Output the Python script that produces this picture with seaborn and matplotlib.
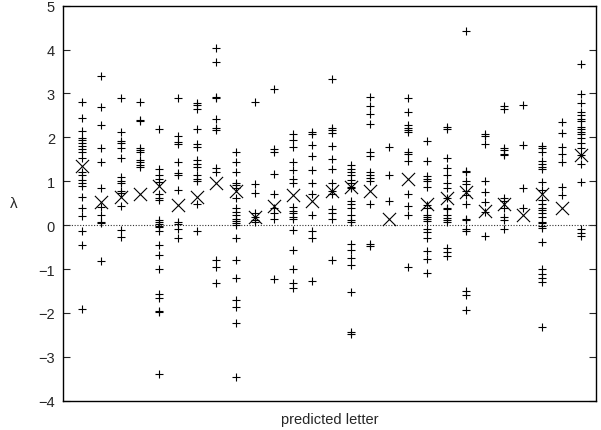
import matplotlib
matplotlib.use('Agg')
import matplotlib.pyplot as plt
import pandas as pd
import seaborn as sns

# predicted letters (27 classes, tick labels are hidden in the figure)
letters = list('abcdefghijklmnopqrstuvwxyz') + ['_']

# lambda values per predicted letter
c00 = [2.81, 2.43, 2.14, 1.99, 1.94, 1.86, 1.80, 1.73, 1.66, 1.52, 1.21, 1.14, 1.03, 0.95, 0.90, 0.65, 0.38, 0.21, -0.13, -0.46, -1.92]
c01 = [3.40, 2.70, 2.29, 1.76, 1.44, 0.85, 0.42, 0.24, 0.08, 0.04, -0.81]
c02 = [2.89, 2.13, 1.91, 1.86, 1.76, 1.54, 1.09, 1.00, 0.96, 0.77, 0.73, 0.44, -0.11, -0.27]
c03 = [2.81, 2.39, 2.37, 1.76, 1.71, 1.67, 1.48, 1.43, 1.37, 1.33]
c04 = [2.20, 1.29, 1.14, 1.06, 0.99, 0.72, 0.61, 0.57, 0.11, 0.06, 0.02, -0.02, -0.04, -0.13, -0.46, -0.67, -0.99, -1.56, -1.66, -1.96, -1.99, -3.40]
c05 = [2.90, 2.03, 1.90, 1.85, 1.44, 1.18, 1.15, 0.80, 0.08, 0.02, -0.08, -0.30]
c06 = [2.79, 2.73, 2.64, 2.19, 1.84, 1.78, 1.48, 1.40, 1.33, 1.14, 1.05, 1.00, 0.48, -0.13]
c07 = [4.04, 3.72, 2.92, 2.89, 2.41, 2.22, 2.16, 1.31, 1.20, -0.80, -0.95, -1.31]
c08 = [1.66, 1.43, 1.21, 0.95, 0.91, 0.84, 0.61, 0.38, 0.30, 0.23, 0.15, 0.09, 0.04, 0.00, -0.30, -0.80, -1.20, -1.71, -1.86, -2.24, -3.46]
c09 = [2.81, 0.93, 0.74, 0.27, 0.19, 0.11, 0.06]
c10 = [3.10, 1.73, 1.67, 1.16, 0.72, 0.38, 0.27, 0.15, -1.23]
c11 = [2.07, 1.94, 1.77, 1.43, 1.25, 1.06, 0.95, 0.42, 0.32, 0.27, 0.19, 0.15, -0.10, -0.57, -1.00, -1.31, -1.43]
c12 = [2.13, 2.07, 1.82, 1.58, 1.25, 0.95, 0.72, 0.23, -0.13, -0.29, -1.28]
c13 = [3.32, 2.22, 2.16, 2.11, 1.81, 1.50, 1.29, 0.95, 0.77, 0.70, 0.36, 0.27, 0.15, -0.80]
c14 = [1.38, 1.29, 1.21, 1.14, 1.03, 0.95, 0.87, 0.84, 0.55, 0.49, 0.38, 0.24, 0.11, 0.06, -0.42, -0.57, -0.76, -0.91, -1.52, -2.43, -2.49]
c15 = [2.92, 2.72, 2.53, 2.31, 1.66, 1.58, 1.20, 1.15, 1.08, 1.00, 0.48, -0.43, -0.47]
c16 = [1.78, 1.15, 0.55]
c17 = [2.89, 2.58, 2.28, 2.22, 2.16, 2.13, 1.67, 1.61, 1.46, 0.72, 0.43, 0.24, -0.96]
c18 = [1.91, 1.47, 1.12, 1.06, 1.01, 0.87, 0.46, 0.39, 0.24, 0.19, 0.15, 0.09, -0.09, -0.15, -0.30, -0.59, -0.77, -1.08]
c19 = [2.23, 2.19, 1.54, 1.31, 1.14, 0.97, 0.84, 0.62, 0.39, 0.36, 0.23, 0.17, 0.11, 0.06, -0.52, -0.62, -0.70]
c20 = [4.42, 1.23, 1.20, 1.00, 0.93, 0.77, 0.68, 0.49, 0.14, 0.11, -0.08, -0.14, -1.50, -1.59, -1.94]
c21 = [2.07, 2.03, 1.84, 1.00, 0.76, 0.52, 0.30, -0.25]
c22 = [2.72, 2.64, 1.76, 1.71, 1.63, 1.59, 0.61, 0.55, 0.38, 0.19, 0.11, -0.09]
c23 = [2.73, 1.82, 0.84, 0.39]
c24 = [1.81, 1.75, 1.67, 1.46, 1.40, 1.33, 1.28, 0.99, 0.80, 0.57, 0.49, 0.39, 0.34, 0.27, 0.19, 0.08, 0.04, -0.02, -0.06, -0.38, -1.00, -1.12, -1.21, -1.29, -2.32]
c25 = [2.34, 2.09, 1.78, 1.61, 1.44, 0.87, 0.68]
c26 = [3.68, 2.98, 2.79, 2.58, 2.51, 2.41, 2.37, 2.24, 2.20, 2.13, 2.07, 1.99, 1.86, 1.76, 1.59, 1.40, 0.99, -0.08, -0.19, -0.24]

# average lambda per letter (the big x marks)
means = [1.34, 0.52, 0.65, 0.72, 0.90, 0.46, 0.65, 0.96, 0.78, 0.19, 0.44, 0.68, 0.55, 0.77,
         0.87, 0.77, 0.14, 1.06, 0.48, 0.61, 0.76, 0.33, 0.49, 0.23, 0.70, 0.40, 1.59]

columns = [c00, c01, c02, c03, c04, c05, c06, c07, c08, c09, c10, c11, c12, c13,
           c14, c15, c16, c17, c18, c19, c20, c21, c22, c23, c24, c25, c26]

# long-form table for seaborn
rows = []
for i, vals in enumerate(columns):
    for v in vals:
        rows.append({'pos': i, 'letter': letters[i], 'lam': v})
df = pd.DataFrame(rows)
df_mean = pd.DataFrame({'pos': range(len(means)), 'letter': letters, 'lam': means})

sns.set_style('ticks')
plt.rcParams['font.family'] = ['Liberation Sans', 'DejaVu Sans']

fig = plt.figure(figsize=(6.01, 4.31), dpi=100)
ax = fig.add_axes([0.1053, 0.068, 0.886, 0.9165])

# zero line
ax.axhline(0, color='#333333', lw=0.8, ls=(0, (1, 1.5)), zorder=1)

sns.scatterplot(data=df, x='pos', y='lam', marker='+', s=28, color='black',
                linewidth=0.8, ax=ax, legend=False, zorder=3)
sns.scatterplot(data=df_mean, x='pos', y='lam', marker='x', s=90, color='black',
                linewidth=0.8, ax=ax, legend=False, zorder=4)

ax.set_xlim(-0.99, 26.78)
ax.set_ylim(-4, 5)
ax.set_xticks([])
ax.set_yticks(range(-4, 6))
ax.tick_params(axis='y', direction='in', length=5, width=0.8, labelsize=10.5,
               right=True, left=True, pad=6)
for sp in ax.spines.values():
    sp.set_linewidth(1.0)
    sp.set_color('black')

ax.set_xlabel('predicted letter', fontsize=10.5, labelpad=8)
ax.set_ylabel('λ', fontsize=11, rotation=0, labelpad=18, va='center')

fig.savefig('out.png', dpi=100)
